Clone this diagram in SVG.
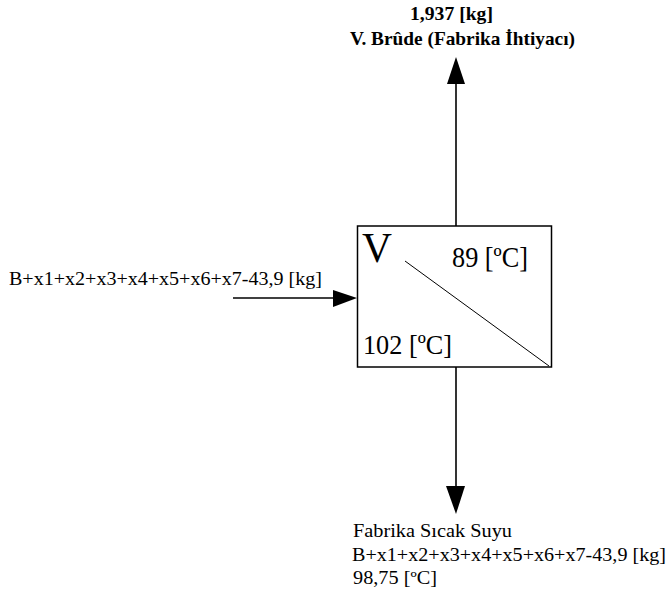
<svg xmlns="http://www.w3.org/2000/svg" width="672" height="593" viewBox="0 0 672 593">
<style>
text{font-family:'Liberation Serif','Times New Roman',serif;fill:#000}
.b{font-weight:bold}
.ln{stroke:#000;stroke-width:1.6;fill:none}
.ah{fill:#000}
</style>
<rect width="672" height="593" fill="#fff"/>
<g id="connectors">
<line class="ln" x1="456" y1="226" x2="456" y2="80"/>
<polygon class="ah" points="456,57 447,84 465,84"/>
<line class="ln" x1="456" y1="367" x2="456" y2="490"/>
<polygon class="ah" points="456,514 446,486 465,486"/>
<line class="ln" x1="233" y1="298" x2="336" y2="298"/>
<polygon class="ah" points="357,298 333,290 333,307"/>
</g>
<g id="node-V">
<rect x="357.5" y="226" width="194" height="141" fill="#fff" stroke="#000" stroke-width="1.5"/>
<line x1="405" y1="261" x2="549" y2="366" stroke="#000" stroke-width="1"/>
<text font-family="Liberation Serif, serif" x="362" y="262" font-size="42" textLength="30" lengthAdjust="spacingAndGlyphs">V</text>
<text font-family="Liberation Serif, serif" x="452" y="267" font-size="29" textLength="76" lengthAdjust="spacingAndGlyphs">89 [ºC]</text>
<text font-family="Liberation Serif, serif" x="363" y="354" font-size="28" textLength="89" lengthAdjust="spacingAndGlyphs">102 [ºC]</text>
</g>
<g id="label-top">
<text font-family="Liberation Serif, serif" class="b" x="410" y="20" font-size="19" textLength="83" lengthAdjust="spacingAndGlyphs">1,937 [kg]</text>
<text font-family="Liberation Serif, serif" class="b" x="350" y="45" font-size="19" textLength="225" lengthAdjust="spacingAndGlyphs">V. Brûde (Fabrika İhtiyacı)</text>
</g>
<g id="label-left">
<text font-family="Liberation Serif, serif" x="9" y="285" font-size="18" textLength="313" lengthAdjust="spacingAndGlyphs">B+x1+x2+x3+x4+x5+x6+x7-43,9 [kg]</text>
</g>
<g id="label-bottom">
<text font-family="Liberation Serif, serif" x="353" y="537" font-size="18" textLength="159" lengthAdjust="spacingAndGlyphs">Fabrika Sıcak Suyu</text>
<text font-family="Liberation Serif, serif" x="352" y="561" font-size="18" textLength="314" lengthAdjust="spacingAndGlyphs">B+x1+x2+x3+x4+x5+x6+x7-43,9 [kg]</text>
<text font-family="Liberation Serif, serif" x="353" y="584" font-size="18" textLength="84" lengthAdjust="spacingAndGlyphs">98,75 [ºC]</text>
</g>
</svg>
